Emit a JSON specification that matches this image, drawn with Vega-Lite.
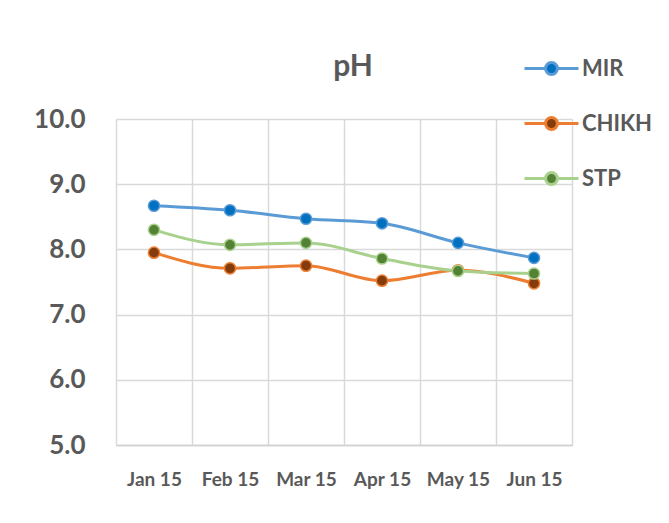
{
  "$schema": "https://vega.github.io/schema/vega-lite/v6.json",
  "autosize": "none",
  "width": 456,
  "height": 326,
  "padding": {"left": 116, "top": 119, "right": 97, "bottom": 78},
  "background": "white",
  "title": {
    "text": "pH",
    "font": "Lato",
    "fontSize": 30,
    "fontWeight": "bold",
    "color": "#595959",
    "anchor": "middle",
    "frame": "group",
    "dx": 9,
    "offset": -42
  },
  "config": {
    "view": {"stroke": null},
    "font": "Lato",
    "legend": {
      "title": null,
      "orient": "none",
      "legendX": 407,
      "legendY": -79,
      "padding": 0,
      "symbolType": "M-1,0H-0.22M0.22,0H1M0.22,0A0.22,0.22 0 1,1 -0.22,0A0.22,0.22 0 1,1 0.22,0Z",
      "symbolSize": 2916,
      "symbolStrokeWidth": 3,
      "labelFont": "Lato",
      "labelFontSize": 22,
      "labelFontWeight": "bold",
      "labelColor": "#595959",
      "labelOffset": 2,
      "rowPadding": 14
    }
  },
  "data": {
    "values": [
      {"month": "Jan 15", "site": "MIR", "ph": 8.67},
      {"month": "Feb 15", "site": "MIR", "ph": 8.60},
      {"month": "Mar 15", "site": "MIR", "ph": 8.47},
      {"month": "Apr 15", "site": "MIR", "ph": 8.40},
      {"month": "May 15", "site": "MIR", "ph": 8.10},
      {"month": "Jun 15", "site": "MIR", "ph": 7.87},
      {"month": "Jan 15", "site": "CHIKH", "ph": 7.95},
      {"month": "Feb 15", "site": "CHIKH", "ph": 7.71},
      {"month": "Mar 15", "site": "CHIKH", "ph": 7.75},
      {"month": "Apr 15", "site": "CHIKH", "ph": 7.52},
      {"month": "May 15", "site": "CHIKH", "ph": 7.68},
      {"month": "Jun 15", "site": "CHIKH", "ph": 7.48},
      {"month": "Jan 15", "site": "STP", "ph": 8.30},
      {"month": "Feb 15", "site": "STP", "ph": 8.07},
      {"month": "Mar 15", "site": "STP", "ph": 8.10},
      {"month": "Apr 15", "site": "STP", "ph": 7.86},
      {"month": "May 15", "site": "STP", "ph": 7.67},
      {"month": "Jun 15", "site": "STP", "ph": 7.63}
    ]
  },
  "encoding": {
    "x": {
      "field": "month",
      "type": "ordinal",
      "sort": ["Jan 15", "Feb 15", "Mar 15", "Apr 15", "May 15", "Jun 15"],
      "scale": {"type": "band", "paddingInner": 0, "paddingOuter": 0},
      "axis": {
        "title": null,
        "labelAngle": 0,
        "tickBand": "extent",
        "grid": true,
        "gridColor": "#D9D9D9",
        "gridWidth": 1.5,
        "ticks": false,
        "domainColor": "#D0D0D0",
        "domainWidth": 1.5,
        "labelFont": "Lato",
        "labelFontSize": 19,
        "labelFontWeight": "bold",
        "labelColor": "#595959",
        "labelPadding": 25
      }
    },
    "y": {
      "field": "ph",
      "type": "quantitative",
      "scale": {"domain": [5, 10], "nice": false, "zero": false},
      "axis": {
        "title": null,
        "values": [5, 6, 7, 8, 9, 10],
        "format": ".1f",
        "grid": true,
        "gridColor": "#D9D9D9",
        "gridWidth": 1.5,
        "ticks": false,
        "domain": false,
        "labelFont": "Lato",
        "labelFontSize": 26,
        "labelFontWeight": "bold",
        "labelColor": "#595959",
        "labelPadding": 31
      }
    }
  },
  "layer": [
    {
      "mark": {"type": "line", "strokeWidth": 3, "interpolate": "monotone"},
      "encoding": {
        "stroke": {
          "field": "site",
          "type": "nominal",
          "scale": {"domain": ["MIR", "CHIKH", "STP"], "range": ["#5B9BD5", "#ED7D31", "#A9D18E"]}
        }
      }
    },
    {
      "mark": {"type": "point", "filled": true, "size": 125, "strokeWidth": 1.5, "opacity": 1, "shape": "circle"},
      "encoding": {
        "fill": {
          "field": "site",
          "type": "nominal",
          "scale": {"domain": ["MIR", "CHIKH", "STP"], "range": ["#0070C0", "#843C0C", "#548235"]}
        },
        "stroke": {
          "field": "site",
          "type": "nominal"
        }
      }
    }
  ]
}
